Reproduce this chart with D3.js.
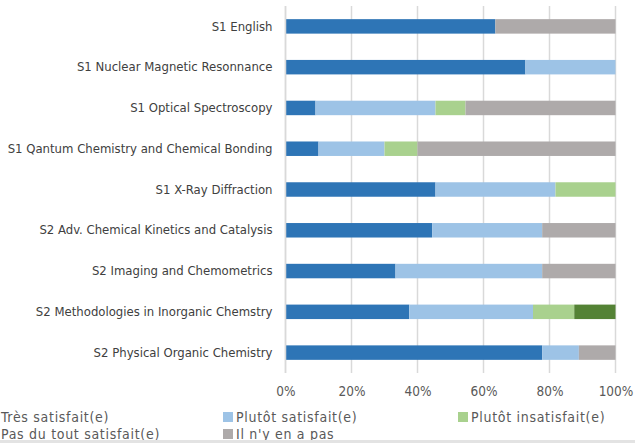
<!DOCTYPE html>
<html>
<head>
<meta charset="utf-8">
<script src="https://cdn.jsdelivr.net/npm/d3@7"></script>
<style>
  html, body { margin: 0; padding: 0; background: #fff; }
  svg { display: block; }
  text { font-family: "DejaVu Sans Condensed", "DejaVu Sans", sans-serif; font-stretch: condensed; }
</style>
</head>
<body>
<svg id="chart" width="635" height="443"></svg>
<script>
// Courses, top to bottom
const courses = [
  "S1 English",
  "S1 Nuclear Magnetic Resonnance",
  "S1 Optical Spectroscopy",
  "S1 Qantum Chemistry and Chemical Bonding",
  "S1 X-Ray Diffraction",
  "S2 Adv. Chemical Kinetics and Catalysis",
  "S2 Imaging and Chemometrics",
  "S2 Methodologies in Inorganic Chemstry",
  "S2 Physical Organic Chemistry"
];

// Share of answers per course (%)
const tresSatisfait      = [63.6, 72.7,  9.1, 10.0, 45.5, 44.4, 33.3, 37.5, 77.8];
const plutotSatisfait    = [ 0.0, 27.3, 36.4, 20.0, 36.4, 33.3, 44.4, 37.5, 11.1];
const plutotInsatisfait  = [ 0.0,  0.0,  9.1, 10.0, 18.2,  0.0,  0.0, 12.5,  0.0];
const pasDuToutSatisfait = [ 0.0,  0.0,  0.0,  0.0,  0.0,  0.0,  0.0, 12.5,  0.0];
const ilNyEnAPas         = [36.4,  0.0, 45.5, 60.0,  0.0, 22.2, 22.2,  0.0, 11.1];

const seriesNames = ["Très satisfait(e)", "Plutôt satisfait(e)", "Plutôt insatisfait(e)",
                     "Pas du tout satisfait(e)", "Il n'y en a pas"];
const seriesValues = [tresSatisfait, plutotSatisfait, plutotInsatisfait, pasDuToutSatisfait, ilNyEnAPas];
const seriesColors = ["#2E75B6", "#9DC3E6", "#A9D18E", "#548235", "#AEAAAA"];

const tickValues = [0, 0.2, 0.4, 0.6, 0.8, 1.0];

const svg = d3.select("#chart");

const x = d3.scaleLinear().domain([0, 1]).range([285.5, 615.5]);
const y = d3.scaleBand().domain(courses).range([6, 373]).paddingInner(0.645).paddingOuter(0.3225);

// Build stacked rows (values normalised to 100%)
const rows = courses.map((c, i) => {
  const obj = { course: c };
  const total = d3.sum(seriesValues, s => s[i]);
  seriesNames.forEach((n, k) => obj[n] = seriesValues[k][i] / total);
  return obj;
});
const stacked = d3.stack().keys(seriesNames)(rows);

// vertical grid lines
svg.append("g")
  .selectAll("line")
  .data(tickValues)
  .join("line")
  .attr("x1", d => x(d)).attr("x2", d => x(d))
  .attr("y1", 6).attr("y2", 373)
  .attr("stroke", "#d9d9d9")
  .attr("stroke-width", 1.5);

// bars
svg.append("g")
  .selectAll("g")
  .data(stacked)
  .join("g")
  .attr("fill", (d, i) => seriesColors[i])
  .selectAll("rect")
  .data(d => d)
  .join("rect")
  .attr("x", d => x(d[0]))
  .attr("y", d => y(d.data.course))
  .attr("width", d => x(d[1]) - x(d[0]))
  .attr("height", y.bandwidth());

// x axis labels
const xAxis = d3.axisBottom(x).tickValues(tickValues).tickFormat(d3.format(".0%")).tickSize(0).tickPadding(0);
const gx = svg.append("g").attr("transform", "translate(0,386)").call(xAxis);
gx.select(".domain").remove();
gx.selectAll("text").attr("fill", "#595959").attr("font-size", 13.5)
  .attr("font-family", null);

// y axis labels
const yAxis = d3.axisLeft(y).tickSize(0).tickPadding(13);
const gy = svg.append("g").attr("transform", `translate(${x(0)},0)`).call(yAxis);
gy.select(".domain").remove();
gy.selectAll("text").attr("fill", "#404040").attr("font-size", 13)
  .attr("font-family", null);

// left axis line
svg.append("line")
  .attr("x1", x(0)).attr("x2", x(0))
  .attr("y1", 6).attr("y2", 373)
  .attr("stroke", "#d9d9d9").attr("stroke-width", 1.5);

// legend
const legendPos = [[-12, 417], [223, 417], [458, 417], [-12, 434], [223, 434]];
const lg = svg.append("g")
  .selectAll("g")
  .data(seriesNames)
  .join("g")
  .attr("transform", (d, i) => `translate(${legendPos[i][0]},${legendPos[i][1]})`);
lg.append("rect")
  .attr("x", 0).attr("y", -5).attr("width", 10).attr("height", 10)
  .attr("fill", (d, i) => seriesColors[i]);
lg.append("text")
  .attr("x", 13).attr("y", 0).attr("dy", "0.35em")
  .attr("fill", "#595959").attr("font-size", 14)
  .attr("letter-spacing", 0.7)
  .text(d => d);

// bottom border
svg.append("rect").attr("x", 0).attr("y", 440).attr("width", 635).attr("height", 3).attr("fill", "#e3e3e3");
</script>
</body>
</html>
